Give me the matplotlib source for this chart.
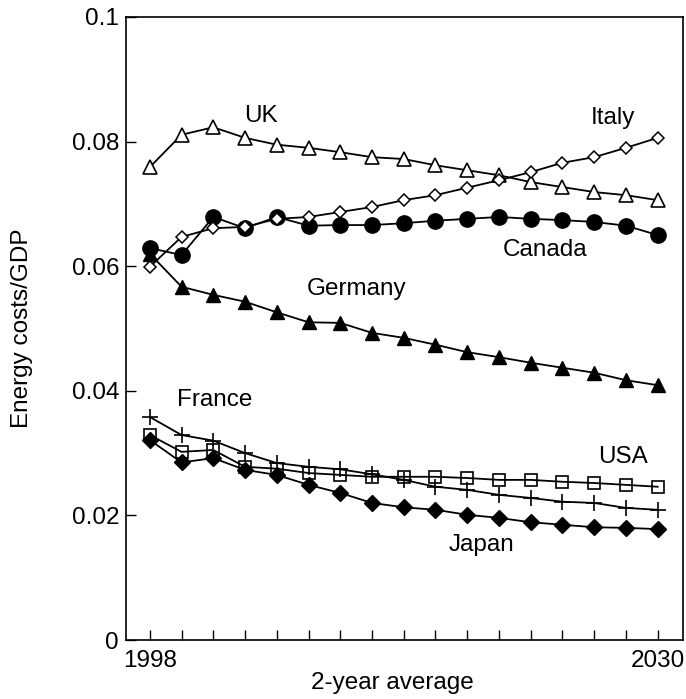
import numpy as np
import matplotlib
matplotlib.use("Agg")
import matplotlib.pyplot as plt

# Datos (promedios de 2 años, 1998-2030)
years = np.arange(1998, 2031, 2)

uk = [0.0759, 0.0811, 0.0823, 0.0806, 0.0795, 0.0790, 0.0783, 0.0775, 0.0772,
      0.0762, 0.0754, 0.0746, 0.0735, 0.0727, 0.0719, 0.0714, 0.0706]
italy = [0.0599, 0.0647, 0.0661, 0.0663, 0.0676, 0.0679, 0.0687, 0.0695, 0.0706,
         0.0714, 0.0726, 0.0738, 0.0751, 0.0766, 0.0775, 0.0790, 0.0806]
canada = [0.0629, 0.0618, 0.0679, 0.0661, 0.0679, 0.0665, 0.0666, 0.0666, 0.0669,
          0.0673, 0.0676, 0.0679, 0.0676, 0.0674, 0.0671, 0.0665, 0.0650]
germany = [0.0620, 0.0567, 0.0554, 0.0543, 0.0526, 0.0510, 0.0509, 0.0493, 0.0485,
           0.0474, 0.0462, 0.0454, 0.0445, 0.0437, 0.0429, 0.0417, 0.0409]
france = [0.0358, 0.0329, 0.0320, 0.0300, 0.0284, 0.0278, 0.0274, 0.0266, 0.0257,
          0.0246, 0.0241, 0.0233, 0.0228, 0.0222, 0.0220, 0.0212, 0.0209]
usa = [0.0329, 0.0302, 0.0305, 0.0278, 0.0275, 0.0268, 0.0265, 0.0262, 0.0262,
       0.0262, 0.0260, 0.0257, 0.0257, 0.0254, 0.0252, 0.0249, 0.0246]
japan = [0.0321, 0.0285, 0.0292, 0.0273, 0.0265, 0.0249, 0.0236, 0.0220, 0.0213,
         0.0209, 0.0201, 0.0196, 0.0189, 0.0185, 0.0181, 0.0180, 0.0178]

plt.rcParams['font.family'] = ['Liberation Sans', 'DejaVu Sans']

fig = plt.figure(figsize=(6.86, 6.99), dpi=100)
ax = fig.add_axes([0.1837, 0.0844, 0.812, 0.8913])

lw = 1.3
ax.plot(years, uk, color='black', lw=lw, marker='^', ms=10.5, mfc='white', mec='black', mew=1.2)
ax.plot(years, germany, color='black', lw=lw, marker='^', ms=10.5, mfc='black', mec='black')
ax.plot(years, canada, color='black', lw=lw, marker='o', ms=11, mfc='black', mec='black')
ax.plot(years, italy, color='black', lw=lw, marker='D', ms=6.5, mfc='white', mec='black', mew=1.1)
ax.plot(years, usa, color='black', lw=lw, marker='s', ms=9, mfc='none', mec='black', mew=1.2)
ax.plot(years, france, color='black', lw=lw, marker='+', ms=12, mec='black', mew=1.2)
ax.plot(years, japan, color='black', lw=lw, marker='D', ms=8, mfc='black', mec='black')

# Etiquetas de los países (posición de la línea base)
fs = 17.5
etiquetas = [('UK', 2005.0, 0.0831), ('Italy', 2027.2, 0.0828),
             ('Canada', 2022.9, 0.0616), ('Germany', 2011.0, 0.0554),
             ('France', 2002.1, 0.0376), ('USA', 2027.8, 0.0284),
             ('Japan', 2018.9, 0.0143)]
for nombre, xt, yt in etiquetas:
    ax.text(xt, yt, nombre, fontsize=fs, ha='center', va='baseline')

ax.set_xlim(1996.5, 2031.6)
ax.set_ylim(0, 0.1)
ax.set_xticks(years)
ax.set_xticklabels(['1998'] + [''] * 15 + ['2030'])
ax.set_yticks([0, 0.02, 0.04, 0.06, 0.08, 0.1])
ax.set_yticklabels(['0', '0.02', '0.04', '0.06', '0.08', '0.1'])
ax.tick_params(direction='in', length=7, width=1, labelsize=17.5)
ax.tick_params(axis='x', pad=7)
ax.tick_params(axis='y', pad=5)
for s in ax.spines.values():
    s.set_linewidth(1.2)

ax.set_xlabel('2-year average', fontsize=17.5, va='center')
ax.xaxis.set_label_coords(0.479, -0.069)
ax.set_ylabel('Energy costs/GDP', fontsize=17.5, va='center', ha='center')
ax.yaxis.set_label_coords(-0.187, 0.5)

fig.savefig('out.png', dpi=100)
